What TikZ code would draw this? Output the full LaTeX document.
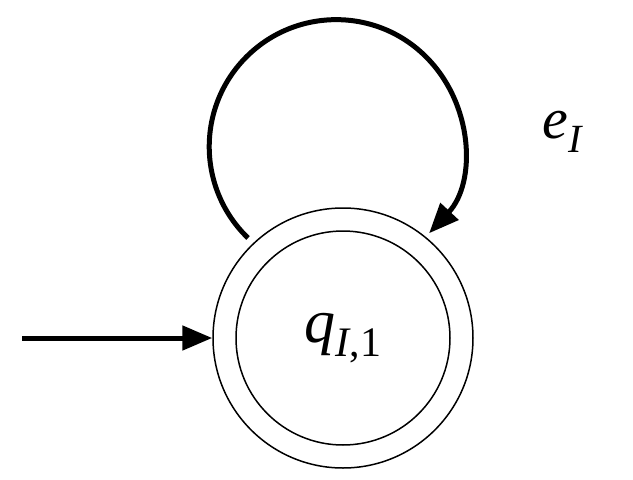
\documentclass[tikz,border=0pt]{standalone}
\usepackage{fontspec}
\setmainfont{Liberation Serif}
\usetikzlibrary{arrows.meta}
\begin{document}
\begin{tikzpicture}[x=1pt,y=-1pt,
  edge/.style={line width=5pt,-{Triangle[length=30pt,width=24pt]}}]
\useasboundingbox (0,0) rectangle (633,480);
\node (qo) [circle,draw,line width=1.5pt,minimum size=260pt] at (343,338) {};
\node (q) [circle,draw,line width=1.5pt,minimum size=214pt,font=\fontsize{62}{64}\selectfont] at (343,338) {\textit{q}\raisebox{-14pt}{\fontsize{42}{44}\selectfont\textit{I},1}};
\coordinate (start) at (22,338);
\draw[edge] (start) -- (qo.west);
\coordinate (ls) at (248,238);
\draw[edge] (ls) arc[start angle=134,end angle=403,radius=127];
\node (e) [font=\fontsize{58}{60}\selectfont] at (563,132) {\textit{e}\raisebox{-14pt}{\fontsize{40}{42}\selectfont\textit{I}}};
\end{tikzpicture}
\end{document}
